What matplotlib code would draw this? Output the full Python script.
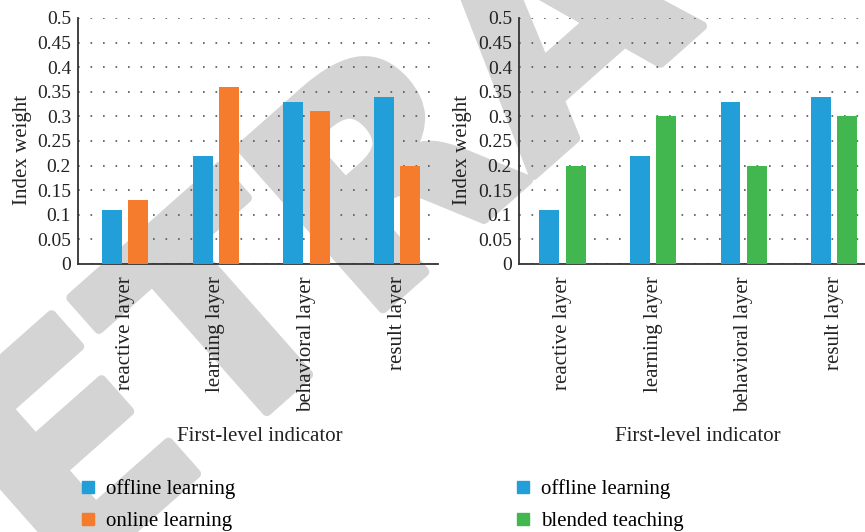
import numpy as np
import matplotlib
matplotlib.use("Agg")
import matplotlib.pyplot as plt
import matplotlib.patheffects as pe
from matplotlib.lines import Line2D

# --- DATA ---
categories = ["reactive layer", "learning layer", "behavioral layer", "result layer"]
offline_learning = [0.11, 0.22, 0.33, 0.34]
online_learning = [0.13, 0.36, 0.31, 0.20]
blended_teaching = [0.20, 0.30, 0.20, 0.30]
y_ticks = [0, 0.05, 0.1, 0.15, 0.2, 0.25, 0.3, 0.35, 0.4, 0.45, 0.5]
y_tick_labels = ["0", "0.05", "0.1", "0.15", "0.2", "0.25", "0.3", "0.35", "0.4", "0.45", "0.5"]

# --- STYLE ---
blue = "#229fd9"
orange = "#f47c2c"
green = "#42b64f"
wm_grey = "#d4d4d4"
serif = ["Liberation Serif", "DejaVu Serif"]
plt.rcParams["font.family"] = serif

fig = plt.figure(figsize=(8.65, 5.32), dpi=100)

# watermark behind everything
fig.text(0.655, 0.93, "RETRACTED", fontsize=212, color=wm_grey, rotation=41.5,
         ha="center", va="center", family="DejaVu Sans", fontweight="bold", zorder=-5,
         path_effects=[pe.withStroke(linewidth=7, foreground=wm_grey)])

ax1 = fig.add_axes([0.0902, 0.5038, 0.4162, 0.4624])
ax2 = fig.add_axes([0.600, 0.5038, 0.400, 0.4624])

x = np.arange(len(categories))
bar_w = 0.22
off = 0.145


def style_axis(ax, xlim, ylab_x, xlab_x):
    ax.set_facecolor("none")
    ax.set_ylim(0, 0.5)
    ax.set_xlim(*xlim)
    ax.set_yticks(y_ticks)
    ax.set_yticklabels(y_tick_labels, fontsize=14, color="#222222")
    ax.set_xticks(x)
    ax.set_xticklabels(categories, rotation=90, fontsize=15, color="#222222", va="top")
    ax.tick_params(axis="both", length=0)
    ax.tick_params(axis="x", pad=9)
    ax.tick_params(axis="y", pad=5)
    for s in ["top", "right"]:
        ax.spines[s].set_visible(False)
    for s in ["left", "bottom"]:
        ax.spines[s].set_color("#333333")
        ax.spines[s].set_linewidth(1.3)
    ax.yaxis.grid(True, linestyle=(0, (1, 6.5)), linewidth=1.2, color="#555555")
    ax.set_axisbelow(True)
    ax.set_ylabel("Index weight", fontsize=15, color="#222222")
    ax.yaxis.set_label_coords(ylab_x, 0.463)
    ax.set_xlabel("First-level indicator", fontsize=15, color="#222222")
    ax.xaxis.set_label_coords(xlab_x, -0.662)


ax1.bar(x - off, offline_learning, bar_w, color=blue, zorder=3)
ax1.bar(x + off, online_learning, bar_w, color=orange, zorder=3)
style_axis(ax1, (-0.52, 3.45), -0.128, 0.504)

ax2.bar(x - off, offline_learning, bar_w, color=blue, zorder=3)
ax2.bar(x + off, blended_teaching, bar_w, color=green, zorder=3)
style_axis(ax2, (-0.48, 3.34), -0.135, 0.517)


def legend_at(xpos, labels, colors):
    handles = [Line2D([], [], marker="s", markersize=9, linestyle="none",
                      color=c) for c in colors]
    fig.legend(handles, labels, loc="upper left", bbox_to_anchor=(xpos, 0.115),
               frameon=False, fontsize=15, handlelength=0.8, handletextpad=0.5,
               labelspacing=0.6, borderaxespad=0)


legend_at(0.082, ["offline learning", "online learning"], [blue, orange])
legend_at(0.585, ["offline learning", "blended teaching"], [blue, green])

fig.savefig("out.png", dpi=100)
